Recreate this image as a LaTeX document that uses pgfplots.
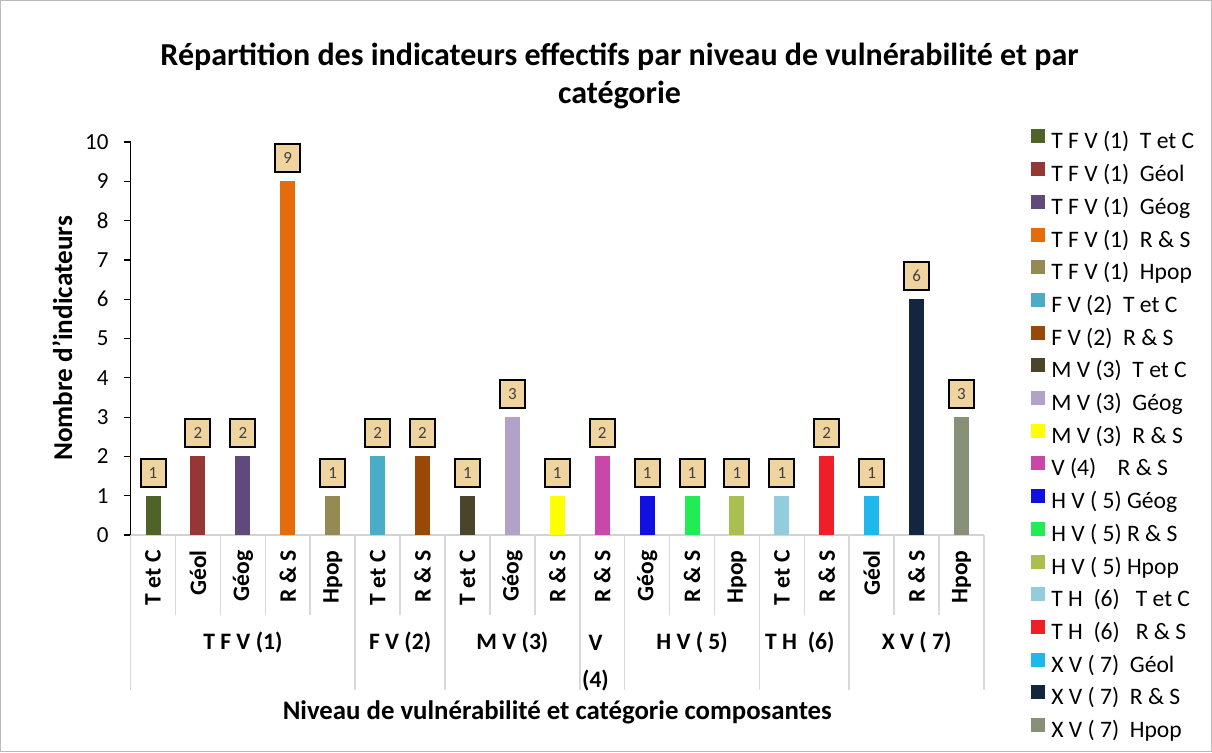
\documentclass[border=0pt]{standalone}
\usepackage{fontspec}
\setmainfont{Carlito}
\usepackage{pgfplots}
\pgfplotsset{compat=1.18}

\definecolor{c1}{HTML}{4F6228}
\definecolor{c2}{HTML}{953735}
\definecolor{c3}{HTML}{604A7B}
\definecolor{c4}{HTML}{E46C0A}
\definecolor{c5}{HTML}{948A54}
\definecolor{c6}{HTML}{4BACC6}
\definecolor{c7}{HTML}{984807}
\definecolor{c8}{HTML}{4A452A}
\definecolor{c9}{HTML}{B3A2C7}
\definecolor{c10}{HTML}{FFFF00}
\definecolor{c11}{HTML}{C847A8}
\definecolor{c12}{HTML}{1010E0}
\definecolor{c13}{HTML}{23EB55}
\definecolor{c14}{HTML}{ABBF50}
\definecolor{c15}{HTML}{93CDDD}
\definecolor{c16}{HTML}{EE1F27}
\definecolor{c17}{HTML}{20B8EC}
\definecolor{c18}{HTML}{122640}
\definecolor{c19}{HTML}{889178}
\definecolor{tanbox}{HTML}{EFD4A0}

\begin{document}
\begin{tikzpicture}
\path[use as bounding box] (0,0) rectangle (606pt,376pt);
\draw[gray!55, line width=0.6pt] (0.4pt,0.4pt) rectangle (605.6pt,375.6pt);
\begin{axis}[
  at={(65.3pt,108.5pt)}, anchor=south west,
  scale only axis, width=426.7pt, height=196.5pt,
  clip=false,
  ybar, bar width=7.5pt, bar shift=0pt,
  xmin=-0.5, xmax=18.5, ymin=0, ymax=10,
  axis x line*=bottom, axis y line*=left,
  x axis line style={-, draw=gray!35, line width=0.8pt},
  y axis line style={-, draw=black, line width=0.6pt},
  xtick={0,...,18},
  xticklabels={T et C, Géol, Géog, R \& S, Hpop, T et C, R \& S, T et C, Géog, R \& S, R \& S, Géog, R \& S, Hpop, T et C, R \& S, Géol, R \& S, Hpop},
  xtick style={draw=none},
  xticklabel style={rotate=90, anchor=east, inner sep=0pt, font=\fontsize{11.8}{12}\selectfont\bfseries},
  xticklabel shift=4pt,
  ytick={0,...,10},
  ytick style={draw=black, line width=0.6pt},
  tick align=outside, major tick length=3.5pt,
  yticklabel style={font=\fontsize{11.5}{12}\selectfont, xshift=-4pt},
  /pgf/number format/assume math mode=true,
  nodes near coords,
  every node near coord/.append style={font=\fontsize{8.5}{8.5}\selectfont, text=black!75, fill=tanbox, draw=black, line width=1pt, inner sep=0pt, minimum width=12.5pt, minimum height=14pt, yshift=4pt},
  title={Répartition des indicateurs effectifs par niveau de vulnérabilité et par\\catégorie},
  title style={at={(axis description cs:0.573,1.137)}, anchor=center, align=center, font=\fontsize{16}{19}\selectfont\bfseries},
  ylabel={Nombre d'indicateurs},
  ylabel style={at={(axis description cs:-0.080,0.5)}, anchor=center, font=\fontsize{13.6}{15}\selectfont\bfseries},
  xlabel={Niveau de vulnérabilité et catégorie composantes},
  xlabel style={at={(axis description cs:0.5,-0.4504)}, anchor=center, font=\fontsize{13.4}{15}\selectfont\bfseries},
  legend style={at={(axis description cs:1.055,1.033)}, anchor=north west, draw=none, fill=none, font=\fontsize{11.8}{13}\selectfont, row sep=4.6pt, inner sep=0pt, column sep=3pt, nodes={inner sep=0pt, text height=7.5pt, text depth=2pt}},
  legend cell align=left,
  legend image code/.code={\fill[#1] (0pt,0pt) rectangle (7pt,7pt);},
]
\addplot[fill=c1, draw=none] coordinates {(0,1)};
\addplot[fill=c2, draw=none] coordinates {(1,2)};
\addplot[fill=c3, draw=none] coordinates {(2,2)};
\addplot[fill=c4, draw=none] coordinates {(3,9)};
\addplot[fill=c5, draw=none] coordinates {(4,1)};
\addplot[fill=c6, draw=none] coordinates {(5,2)};
\addplot[fill=c7, draw=none] coordinates {(6,2)};
\addplot[fill=c8, draw=none] coordinates {(7,1)};
\addplot[fill=c9, draw=none] coordinates {(8,3)};
\addplot[fill=c10, draw=none] coordinates {(9,1)};
\addplot[fill=c11, draw=none] coordinates {(10,2)};
\addplot[fill=c12, draw=none] coordinates {(11,1)};
\addplot[fill=c13, draw=none] coordinates {(12,1)};
\addplot[fill=c14, draw=none] coordinates {(13,1)};
\addplot[fill=c15, draw=none] coordinates {(14,1)};
\addplot[fill=c16, draw=none] coordinates {(15,2)};
\addplot[fill=c17, draw=none] coordinates {(16,1)};
\addplot[fill=c18, draw=none] coordinates {(17,6)};
\addplot[fill=c19, draw=none] coordinates {(18,3)};
\legend{T F V (1)~ T et C, T F V (1)~ Géol, T F V (1)~ Géog, T F V (1)~ R \& S, T F V (1)~ Hpop, F V (2)~ T et C, F V (2)~ R \& S, M V (3)~ T et C, M V (3)~ Géog, M V (3)~ R \& S, V (4)~~~ R \& S, H V ( 5) Géog, H V ( 5) R \& S, H V ( 5) Hpop, T H~ (6)~~ T et C, T H~ (6)~~ R \& S, X V ( 7)~ Géol, X V ( 7)~ R \& S, X V ( 7)~ Hpop}

% separators of the two-level category axis
\pgfplotsinvokeforeach{0.5,1.5,2.5,3.5,5.5,7.5,8.5,11.5,12.5,14.5,16.5,17.5}{
  \draw[gray!30, line width=0.8pt] (axis cs:#1,0) -- ++(0pt,-40pt);
}
\pgfplotsinvokeforeach{-0.5,4.5,6.5,9.5,10.5,13.5,15.5,18.5}{
  \draw[gray!30, line width=0.8pt] (axis cs:#1,0) -- ++(0pt,-77.5pt);
}
\node[font=\fontsize{11.8}{18.5}\selectfont\bfseries, yshift=-54pt] at (axis cs:2,0) {T F V (1)};
\node[font=\fontsize{11.8}{18.5}\selectfont\bfseries, yshift=-54pt] at (axis cs:5.5,0) {F V (2)};
\node[font=\fontsize{11.8}{18.5}\selectfont\bfseries, yshift=-54pt] at (axis cs:8,0) {M V (3)};
\node[font=\fontsize{11.8}{18.5}\selectfont\bfseries, align=center, yshift=-64pt] at (axis cs:9.85,0) {V\\(4)};
\node[font=\fontsize{11.8}{18.5}\selectfont\bfseries, yshift=-54pt] at (axis cs:12,0) {H V ( 5)};
\node[font=\fontsize{11.8}{18.5}\selectfont\bfseries, yshift=-54pt] at (axis cs:14.4,0) {T H~ (6)};
\node[font=\fontsize{11.8}{18.5}\selectfont\bfseries, yshift=-54pt] at (axis cs:17,0) {X V ( 7)};
\end{axis}
\end{tikzpicture}
\end{document}
